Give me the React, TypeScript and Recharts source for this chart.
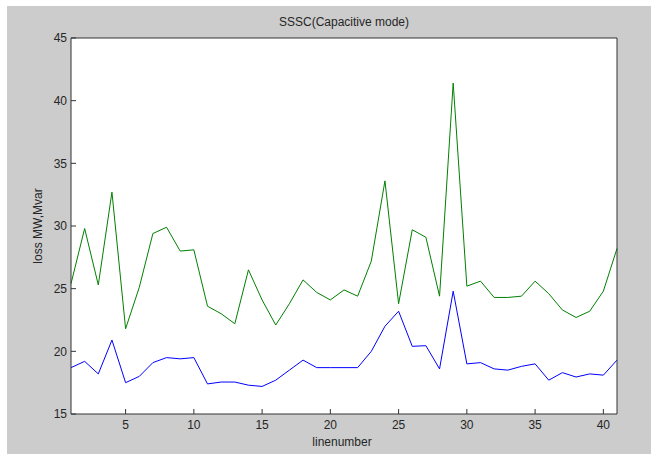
import React from "react";
import { LineChart, Line, XAxis, YAxis, CartesianGrid } from "recharts";

const lineNumbers = [1,2,3,4,5,6,7,8,9,10,11,12,13,14,15,16,17,18,19,20,21,22,23,24,25,26,27,28,29,30,31,32,33,34,35,36,37,38,39,40,41];
const greenLoss = [25.4, 29.8, 25.3, 32.7, 21.8, 25.1, 29.4, 29.9, 28.0, 28.1, 23.6, 23.0, 22.2, 26.5, 24.1, 22.1, 23.8, 25.7, 24.7, 24.1, 24.9, 24.4, 27.2, 33.6, 23.8, 29.7, 29.1, 24.4, 41.4, 25.2, 25.6, 24.3, 24.3, 24.4, 25.6, 24.6, 23.3, 22.7, 23.2, 24.8, 28.2];
const blueLoss = [18.7, 19.2, 18.2, 20.9, 17.5, 18.0, 19.1, 19.5, 19.4, 19.5, 17.4, 17.55, 17.55, 17.3, 17.2, 17.7, 18.5, 19.3, 18.7, 18.7, 18.7, 18.7, 20.0, 22.0, 23.2, 20.4, 20.45, 18.6, 24.8, 19.0, 19.1, 18.6, 18.5, 18.8, 19.0, 17.7, 18.3, 17.95, 18.2, 18.1, 19.3];
const xTicks = [5, 10, 15, 20, 25, 30, 35, 40];
const yTicks = [15, 20, 25, 30, 35, 40, 45];
const title = "SSSC(Capacitive mode)";
const xLabel = "linenumber";
const yLabel = "loss MW,Mvar";

const data = lineNumbers.map((n, i) => ({ line: n, green: greenLoss[i], blue: blueLoss[i] }));

const FONT = "'Liberation Sans', Arial, Helvetica, sans-serif";
const tickStyle = { fontFamily: FONT, fontSize: 12, fill: "#262626" };
const axisColor = "#333333";

export default function App() {
  return (
    <div style={{ position: "absolute", left: 0, top: 0, width: 656, height: 454, background: "#ffffff" }}>
      <div style={{ position: "absolute", left: 7, top: 6, width: 644, height: 448, background: "#cccccc" }} />
      <div style={{ position: "absolute", left: 0, top: 0 }}>
        <LineChart width={656} height={454} data={data} margin={{ top: 37, right: 38, bottom: 0, left: 0 }}>
          <CartesianGrid horizontal={false} vertical={false} fill="#ffffff" stroke="none" />
          <XAxis
            dataKey="line"
            type="number"
            domain={[1, 41]}
            ticks={xTicks}
            height={40}
            tickSize={-5}
            tickMargin={11}
            stroke={axisColor}
            tick={tickStyle}
            axisLine={{ stroke: axisColor }}
            tickLine={{ stroke: axisColor }}
          />
          <XAxis
            xAxisId="top"
            orientation="top"
            dataKey="line"
            type="number"
            domain={[1, 41]}
            ticks={xTicks}
            height={1}
            tickSize={-5}
            tick={false}
            stroke={axisColor}
          />
          <YAxis
            type="number"
            domain={[15, 45]}
            ticks={yTicks}
            width={71}
            tickSize={-5}
            tickMargin={9}
            stroke={axisColor}
            tick={tickStyle}
          />
          <YAxis
            yAxisId="right"
            orientation="right"
            type="number"
            domain={[15, 45]}
            ticks={yTicks}
            width={1}
            tickSize={-5}
            tick={false}
            stroke={axisColor}
          />
          <Line dataKey="green" stroke="#008000" strokeWidth={1} dot={false} isAnimationActive={false} />
          <Line dataKey="blue" stroke="#0000ff" strokeWidth={1} dot={false} isAnimationActive={false} />
          <text x={344} y={26} textAnchor="middle" style={{ fontFamily: FONT, fontSize: 12, fill: "#262626" }}>{title}</text>
          <text x={342} y={446} textAnchor="middle" style={{ fontFamily: FONT, fontSize: 12, fill: "#262626" }}>{xLabel}</text>
          <text x={42} y={226} textAnchor="middle" transform="rotate(-90 42 226)" style={{ fontFamily: FONT, fontSize: 12, fill: "#262626" }}>{yLabel}</text>
        </LineChart>
      </div>
    </div>
  );
}
